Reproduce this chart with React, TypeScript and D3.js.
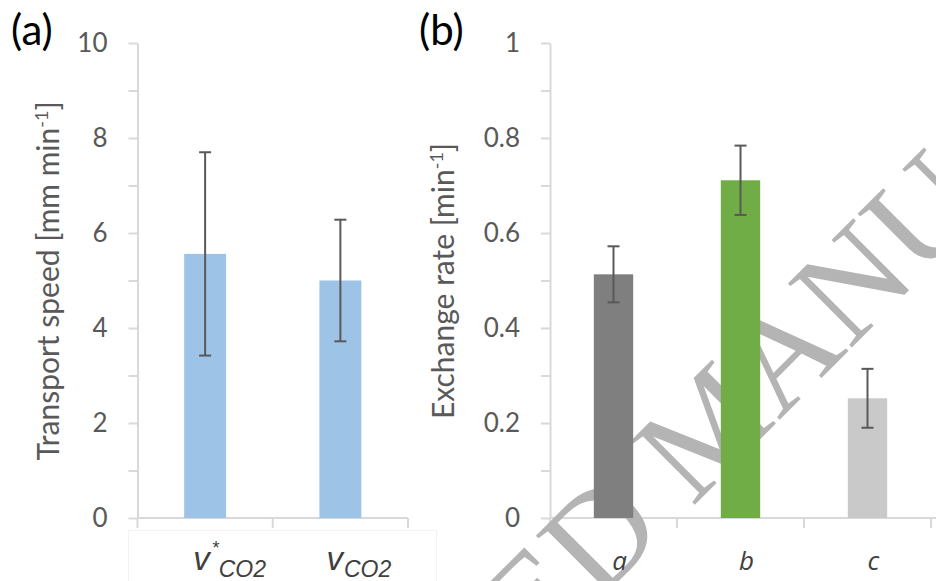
import React, { useRef, useEffect } from "react"
import * as d3 from "d3"

// panel (a): transport speed
const speedCats = ["vStarCO2", "vCO2"]
const speedMain = ["v", "v"]
const speedSup = ["*", ""]
const speedSub = ["CO2", "CO2"]
const speedValues = [5.56, 5.0]
const speedErrors = [2.14, 1.28]
const speedTicks = [0, 1, 2, 3, 4, 5, 6, 7, 8, 9, 10]

// panel (b): exchange rate
const rateCats = ["a", "b", "c"]
const rateValues = [0.513, 0.711, 0.252]
const rateErrors = [0.059, 0.073, 0.062]
const rateColors = ["#7f7f7f", "#70ad47", "#c9c9c9"]
const rateTicks = [0, 0.1, 0.2, 0.3, 0.4, 0.5, 0.6, 0.7, 0.8, 0.9, 1]

const watermark = "ACCEPTED MANUSCRIPT"

const App = () => {
    const ref = useRef<SVGSVGElement>(null)

    useEffect(() => {
        const svg = d3.select(ref.current)
        svg.selectAll("*").remove()
        const gray = "#595959"
        const axisCol = "#d9d9d9"
        const top = 43, bottom = 518
        const tickFont = "Lato, 'Open Sans', sans-serif"

        const yA = d3.scaleLinear().domain([0, 10]).range([bottom, top])
        const xA = d3.scaleBand().domain(speedCats).range([137.5, 408])
        const yB = d3.scaleLinear().domain([0, 1]).range([bottom, top])
        const xB = d3.scaleBand().domain(rateCats).range([550, 931])

        // faint frame around the x labels (left over in the source figure)
        svg.append("rect")
            .attr("x", 128.5).attr("y", 530.5).attr("width", 308).attr("height", 80)
            .attr("fill", "none").attr("stroke", "#f2f2f2")

        const yAxis = (x: number, y: any, ticks: number[], fmt: (d: any) => string) => {
            const g = svg.append("g").attr("transform", `translate(${x},0)`)
                .call(d3.axisLeft(y).tickValues(ticks).tickSize(9).tickSizeOuter(0).tickPadding(21).tickFormat(fmt))
            g.select(".domain").attr("stroke", axisCol).attr("stroke-width", 2)
            g.selectAll(".tick line").attr("stroke", axisCol).attr("stroke-width", 2)
            g.selectAll(".tick text").attr("fill", gray).attr("font-family", tickFont).attr("font-size", 26)
        }
        yAxis(137.5, yA, speedTicks, d => (d % 2 === 0 ? String(d) : ""))
        yAxis(550, yB, rateTicks, d => (Math.round(d * 10) % 2 === 0 ? String(+d.toFixed(1)) : ""))

        const xAxis = (xs: any, x1: number) => {
            const g = svg.append("g")
            const x0 = xs.range()[0]
            g.append("line")
                .attr("x1", x0).attr("x2", x1).attr("y1", bottom).attr("y2", bottom)
                .attr("stroke", axisCol).attr("stroke-width", 2)
            const bounds = d3.range(xs.domain().length + 1).map(i => x0 + i * xs.step())
            g.selectAll("line.tk").data(bounds).join("line").attr("class", "tk")
                .attr("x1", d => d).attr("x2", d => d).attr("y1", bottom).attr("y2", bottom + 10)
                .attr("stroke", axisCol).attr("stroke-width", 2)
        }
        xAxis(xA, 408)
        xAxis(xB, 940)

        // watermark sits behind the bars
        const fs = 138
        const mCenter = [703, 432]
        svg.append("text")
            .attr("transform", `translate(${mCenter[0]},${mCenter[1]}) rotate(-45)`)
            .attr("x", -5.861 * fs).attr("y", 0.33 * fs)
            .attr("font-family", "'Liberation Serif', 'DejaVu Serif', serif")
            .attr("font-size", fs)
            .attr("fill", "#b4b4b4")
            .text(watermark)

        const barsAndErrors = (xs: any, y: any, cats: string[], vals: number[], errs: number[], colors: string[]) => {
            const w = xs.bandwidth() * 0.31
            const cx = (i: number) => xs(cats[i]) + xs.bandwidth() / 2
            svg.append("g").selectAll("rect").data(vals).join("rect")
                .attr("x", (d, i) => cx(i) - w / 2)
                .attr("width", w)
                .attr("y", d => y(d))
                .attr("height", d => bottom - y(d))
                .attr("fill", (d, i) => colors[i])
            const eg = svg.append("g").attr("stroke", gray).attr("stroke-width", 2)
            vals.forEach((v, i) => {
                const c = cx(i)
                eg.append("line").attr("x1", c).attr("x2", c).attr("y1", y(v - errs[i])).attr("y2", y(v + errs[i]))
                eg.append("line").attr("x1", c - 6).attr("x2", c + 6).attr("y1", y(v - errs[i])).attr("y2", y(v - errs[i]))
                eg.append("line").attr("x1", c - 6).attr("x2", c + 6).attr("y1", y(v + errs[i])).attr("y2", y(v + errs[i]))
            })
        }
        barsAndErrors(xA, yA, speedCats, speedValues, speedErrors, ["#9dc3e6", "#9dc3e6"])
        barsAndErrors(xB, yB, rateCats, rateValues, rateErrors, rateColors)

        // x labels panel (a): v with superscript star and subscript CO2
        speedCats.forEach((c, i) => {
            const t = svg.append("text")
                .attr("x", xA(c) + xA.bandwidth() / 2 - 12 + (i === 1 ? -2 : 0))
                .attr("y", 570)
                .attr("font-family", "'Liberation Sans', Arial, sans-serif")
                .attr("font-style", "italic")
                .attr("fill", "#404040")
            t.append("tspan").attr("font-size", 33).text(speedMain[i])
            if (speedSup[i]) t.append("tspan").attr("font-size", 18).attr("dy", -16).attr("dx", 2).text(speedSup[i])
            t.append("tspan").attr("font-size", 23).attr("dy", speedSup[i] ? 23 : 7).attr("dx", speedSup[i] ? 0 : 1).text(speedSub[i])
        })

        // x labels panel (b)
        svg.append("g").selectAll("text").data(rateCats).join("text")
            .attr("x", d => xB(d) + xB.bandwidth() / 2 + 6)
            .attr("y", 570)
            .attr("text-anchor", "middle")
            .attr("font-family", "'Open Sans', sans-serif")
            .attr("font-style", "italic")
            .attr("font-size", 26)
            .attr("fill", "#404040")
            .text(d => d)

        // y titles
        const yTitle = (x: number, main: string) => {
            const t = svg.append("text")
                .attr("transform", `translate(${x},281) rotate(-90)`)
                .attr("text-anchor", "middle")
                .attr("font-family", tickFont)
                .attr("font-size", 30)
                .attr("fill", gray)
            t.append("tspan").text(main)
            t.append("tspan").attr("font-size", 18).attr("dy", -11).text("-1")
            t.append("tspan").attr("dy", 11).text("]")
        }
        yTitle(59, "Transport speed [mm min")
        yTitle(454, "Exchange rate [min")

        // panel letters
        svg.append("text").attr("x", 11).attr("y", 45).attr("font-family", tickFont).attr("font-size", 42).attr("fill", "#000").text("(a)")
        svg.append("text").attr("x", 419).attr("y", 45).attr("font-family", tickFont).attr("font-size", 42).attr("fill", "#000").text("(b)")
    }, [])

    return (
        <svg ref={ref} width={936} height={581}
            style={{ position: "absolute", left: 0, top: 0, background: "#fff" }} />
    )
}

export default App
